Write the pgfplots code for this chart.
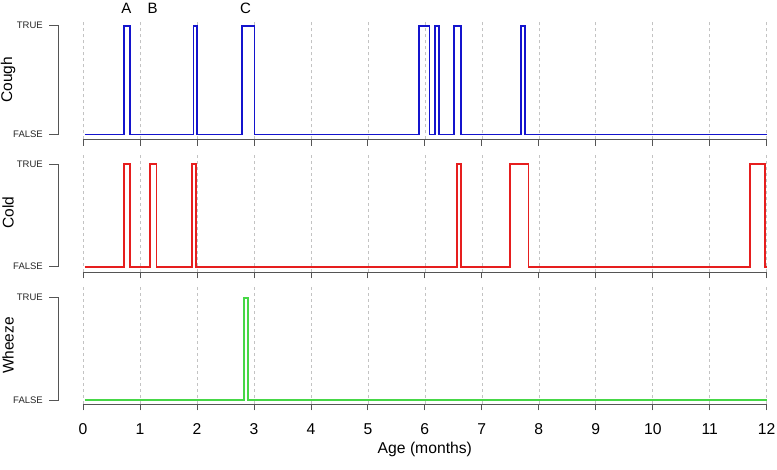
\documentclass[border=0pt]{standalone}
\usepackage{fontspec}
\setmainfont{Liberation Sans}
\usepackage{pgfplots}
\pgfplotsset{compat=1.18}

\definecolor{axgray}{RGB}{85,85,85}
\definecolor{gridgray}{RGB}{195,195,195}
\definecolor{cblue}{RGB}{20,20,205}
\definecolor{cred}{RGB}{230,30,30}
\definecolor{cgreen}{RGB}{70,215,70}

\pgfplotsset{
  panel/.style={
    scale only axis, width=683.7pt, anchor=south west,
    xmin=0, xmax=12, xtick={0,...,12},
    ytick={0,1}, yticklabels={FALSE,TRUE},
    axis x line=bottom, axis y line=left,
    x axis line style={-, axgray, line width=0.8pt},
    y axis line style={draw=none},
    xtick style={axgray, line width=0.8pt},
    ytick style={draw=none},
    tick align=outside, major tick length=6.5pt,
    xmajorgrids, grid style={gridgray, dashed, line width=0.6pt},
    /pgf/number format/assume math mode=true,
    yticklabel style={font=\fontsize{9.5}{11}\selectfont, color=black!85, anchor=east, inner sep=0pt, xshift=-33.5pt},
    ylabel style={at={(axis description cs:-0.1097,0.5)}, anchor=center, font=\fontsize{15.5}{18}\selectfont},
    clip=false,
  }
}
% R-style y axis bracket from FALSE to TRUE
\newcommand{\bracket}{\draw[axgray, line width=0.8pt]
  ([xshift=-33.7pt]axis cs:0,0) -- ([xshift=-24.7pt]axis cs:0,0) --
  ([xshift=-24.7pt]axis cs:0,1) -- ([xshift=-33.7pt]axis cs:0,1);}

\begin{document}
\begin{tikzpicture}
\path[use as bounding box] (0,0) rectangle (777pt,470pt);

% Cough
\begin{axis}[panel, at={(83pt,330.5pt)}, height=119.5pt,
  ymin=-0.046, ymax=1.052, xticklabels={}, ylabel={Cough}]
\addplot[cblue, const plot, line width=1.8pt, no marks] coordinates {
  (0.03,0) (0.72,1) (0.82,0) (1.94,1) (2.00,0) (2.79,1) (3.01,0)
  (5.90,1) (6.08,0) (6.18,1) (6.25,0) (6.51,1) (6.64,0) (7.69,1) (7.76,0) (12,0)
};
\bracket
\node[anchor=base, font=\fontsize{15}{17}\selectfont] at ([yshift=6.5pt]axis cs:0.76,1.052) {A};
\node[anchor=base, font=\fontsize{15}{17}\selectfont] at ([yshift=6.5pt]axis cs:1.22,1.052) {B};
\node[anchor=base, font=\fontsize{15}{17}\selectfont] at ([yshift=6.5pt]axis cs:2.855,1.052) {C};
\end{axis}

% Cold
\begin{axis}[panel, at={(83pt,198pt)}, height=119pt,
  ymin=-0.052, ymax=1.11, xticklabels={}, ylabel={Cold}]
\addplot[cred, const plot, line width=1.8pt, no marks] coordinates {
  (0.03,0) (0.72,1) (0.82,0) (1.18,1) (1.29,0) (1.91,1) (1.99,0)
  (6.56,1) (6.64,0) (7.49,1) (7.82,0) (11.71,1) (11.97,0) (12,0)
};
\bracket
\end{axis}

% Wheeze
\begin{axis}[panel, at={(83pt,66pt)}, height=117pt,
  ymin=-0.039, ymax=1.105, ylabel={Wheeze},
  xticklabel style={font=\fontsize{15.7}{18}\selectfont, anchor=base, inner sep=0pt, yshift=-24.5pt},
  xlabel={Age (months)},
  xlabel style={at={(axis description cs:0.5,-0.42)}, anchor=base, font=\fontsize{15.7}{18}\selectfont}]
\addplot[cgreen, const plot, line width=1.8pt, no marks] coordinates {
  (0.03,0) (2.82,1) (2.89,0) (12,0)
};
\bracket
\end{axis}
\end{tikzpicture}
\end{document}
